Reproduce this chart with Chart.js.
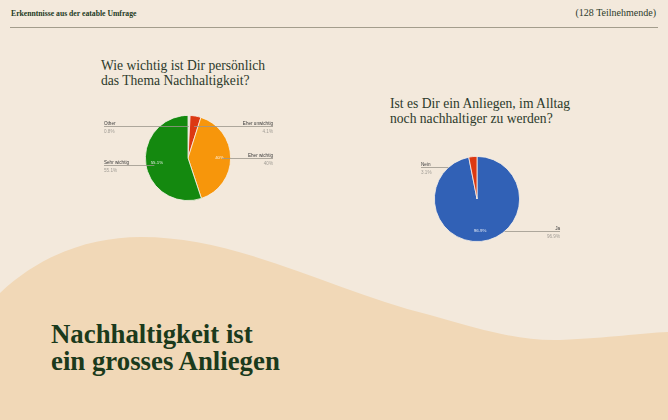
<!DOCTYPE html>
<html>
<head>
<meta charset="utf-8">
<script src="https://cdn.jsdelivr.net/npm/chart.js@4/dist/chart.umd.min.js"></script>
<style>
  html, body { margin:0; padding:0; }
  body { width:668px; height:420px; position:relative; overflow:hidden; background:#f3e9dc; font-family:"Liberation Serif", serif; color:#1d3a1f; }
  .abs { position:absolute; }
  #wave { left:0; top:0; }
  #hl { left:11px; top:9px; font-size:7.7px; font-weight:bold; }
  #hr { right:12px; top:7px; font-size:10px; color:#2c3a2b; }
  #rule { left:10px; top:27px; width:648px; height:1px; background:#a39d8c; }
  .q { font-size:13.6px; line-height:14.5px; color:#2c3a2b; }
  #q1 { left:101px; top:59px; }
  #q2 { left:390px; top:97px; }
  #big { left:51px; top:321px; font-size:26.8px; line-height:27px; font-weight:bold; color:#1b3a1c; }
  #w1 { left:100px; top:105px; width:180px; height:100px; }
  #w2 { left:400px; top:150px; width:170px; height:100px; }
</style>
</head>
<body>
<svg id="wave" class="abs" width="668" height="420" viewBox="0 0 668 420">
  <path d="M0,293 C40,255 90,237 141,237 C240,237 330,290 430,315 C490,332 520,341 560,340 C610,338 640,333 668,332 L668,420 L0,420 Z" fill="#f1d8b7"/>
</svg>
<div id="hl" class="abs">Erkenntnisse aus der eatable Umfrage</div>
<div id="hr" class="abs">(128 Teilnehmende)</div>
<div id="rule" class="abs"></div>
<div id="q1" class="abs q">Wie wichtig ist Dir persönlich<br>das Thema Nachhaltigkeit?</div>
<div id="q2" class="abs q">Ist es Dir ein Anliegen, im Alltag<br>noch nachhaltiger zu werden?</div>
<div id="big" class="abs">Nachhaltigkeit ist<br>ein grosses Anliegen</div>
<div id="w1" class="abs"><canvas id="c1"></canvas></div>
<div id="w2" class="abs"><canvas id="c2"></canvas></div>
<script>
// ---- data ----
const categoriesA = ['Other', 'Eher unwichtig', 'Eher wichtig', 'Sehr wichtig'];
const valuesA = [0.8, 4.1, 40, 55.1];
const colorsA = ['#d6d3cd', '#dc3912', '#f7960b', '#14890f'];

const categoriesB = ['Ja', 'Nein'];
const valuesB = [96.9, 3.1];
const colorsB = ['#3161b6', '#dc3912'];

function pct(v) { return (Number.isInteger(v) ? v : v.toFixed(1)) + '%'; }

const pieLabels = {
  id: 'pieLabels',
  afterDatasetsDraw(chart, args, opts) {
    const ctx = chart.ctx;
    const meta = chart.getDatasetMeta(0);
    const area = chart.chartArea;
    const ds = chart.data.datasets[0];
    ctx.save();
    meta.data.forEach((arc, i) => {
      const p = arc.getProps(['x', 'y', 'startAngle', 'endAngle', 'outerRadius'], true);
      const mid = (p.startAngle + p.endAngle) / 2;
      const r = p.outerRadius;
      const v = ds.data[i];
      const label = chart.data.labels[i];
      if (v >= 10) {
        ctx.fillStyle = 'rgba(255,255,255,0.9)';
        ctx.font = '4.4px "Liberation Sans", Arial, sans-serif';
        ctx.textAlign = 'center';
        ctx.textBaseline = 'middle';
        ctx.fillText(pct(v), p.x + Math.cos(mid) * r * 0.74, p.y + Math.sin(mid) * r * 0.74);
      }
      const side = opts.sides[i];
      const ey = p.y + Math.sin(mid) * r;
      const ly = Math.round(Math.min(Math.max(ey, area.top + 11), area.bottom - 11)) + 0.5;
      const ax = p.x + Math.cos(mid) * r * 0.8;
      const dy = ly - p.y;
      const edge = Math.sqrt(Math.max(r * r - dy * dy, 0));
      let endX;
      if (opts.overPie) endX = ax;
      else endX = side === 'left' ? p.x - edge : p.x + edge;
      const tx = side === 'left' ? opts.leftX : opts.rightX;
      ctx.strokeStyle = '#9a958c';
      ctx.lineWidth = 0.8;
      ctx.beginPath();
      ctx.moveTo(tx, ly);
      ctx.lineTo(endX, ly);
      ctx.stroke();
      ctx.textAlign = side === 'left' ? 'left' : 'right';
      ctx.textBaseline = 'alphabetic';
      ctx.font = '4.6px "Liberation Sans", Arial, sans-serif';
      ctx.fillStyle = '#3a3a3a';
      ctx.fillText(label, tx, ly - 1.8);
      ctx.fillStyle = '#a09c95';
      ctx.fillText(pct(v), tx, ly + 6);
    });
    ctx.restore();
  }
};

function makePie(id, labels, data, colors, padding, pl) {
  return new Chart(document.getElementById(id), {
    type: 'pie',
    data: { labels: labels, datasets: [{ data: data, backgroundColor: colors, borderColor: '#f7f1e8', borderWidth: 0.8 }] },
    options: {
      responsive: true,
      maintainAspectRatio: false,
      animation: false,
      layout: { padding: padding },
      plugins: { legend: { display: false }, tooltip: { enabled: false }, pieLabels: pl }
    },
    plugins: [pieLabels]
  });
}

makePie('c1', categoriesA, valuesA, colorsA, { left: 0, right: 4, top: 10, bottom: 4 },
  { sides: ['left', 'right', 'right', 'left'], overPie: true, leftX: 4, rightX: 173 });
makePie('c2', categoriesB, valuesB, colorsB, { left: 0, right: 16, top: 6, bottom: 8 },
  { sides: ['right', 'left'], overPie: false, leftX: 21, rightX: 160 });
</script>
</body>
</html>
